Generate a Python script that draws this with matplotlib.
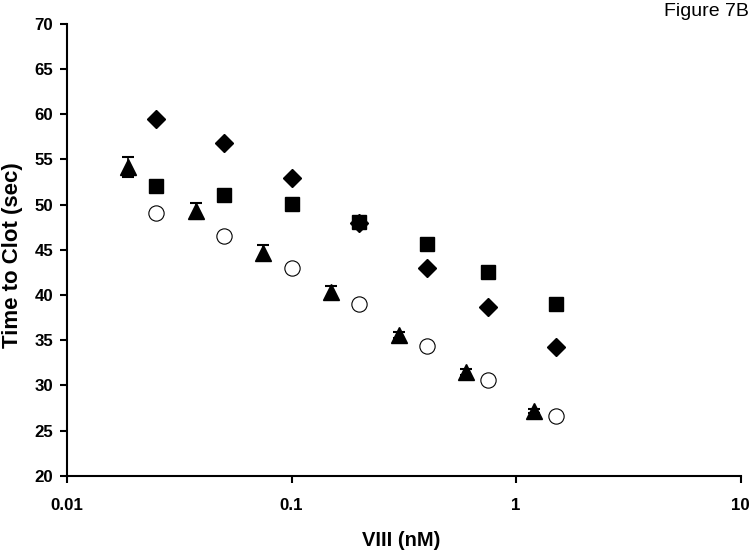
"""Figure 7B: time to clot vs VIII concentration."""

import matplotlib
matplotlib.use("Agg")
import matplotlib.pyplot as plt
from matplotlib.ticker import FixedLocator, FixedFormatter, NullLocator

plt.rcParams['font.family'] = ['Liberation Sans', 'DejaVu Sans']

# series
x_std = [0.025, 0.05, 0.1, 0.2, 0.4, 0.75, 1.5]
diamond_y = [59.5, 56.8, 53.0, 48.0, 43.0, 38.7, 34.3]
square_y = [52.1, 51.1, 50.1, 48.1, 45.6, 42.6, 39.0]
circle_y = [49.1, 46.5, 43.0, 39.0, 34.4, 30.6, 26.6]

x_tri = [0.01875, 0.0375, 0.075, 0.15, 0.3, 0.6, 1.2]
tri_y = [54.2, 49.3, 44.7, 40.3, 35.6, 31.5, 27.2]
tri_err = [1.1, 0.9, 0.8, 0.7, 0.3, 0.3, 0.2]

x_ticks = [0.01, 0.1, 1, 10]
x_labels = ['0.01', '0.1', '1', '10']
y_ticks = list(range(20, 75, 5))

fig = plt.figure(figsize=(7.52, 5.54), dpi=100)
ax = fig.add_axes([0.089, 0.141, 0.896, 0.816])

ax.plot(x_std, diamond_y, 'D', color='black', markersize=9, linestyle='none')
ax.plot(x_std, square_y, 's', color='black', markersize=10.5, linestyle='none')
ax.errorbar(x_tri, tri_y, yerr=tri_err, fmt='^', color='black', markersize=11,
            capsize=4, elinewidth=1.2, capthick=1.5)
ax.plot(x_std, circle_y, 'o', markerfacecolor='white', markeredgecolor='black',
        markeredgewidth=0.8, markersize=11, linestyle='none')

ax.set_xscale('log')
ax.set_xlim(0.01, 10)
ax.set_ylim(20, 70)
ax.xaxis.set_major_locator(FixedLocator(x_ticks))
ax.xaxis.set_major_formatter(FixedFormatter(x_labels))
ax.xaxis.set_minor_locator(NullLocator())
ax.set_yticks(y_ticks)

for side in ['top', 'right']:
    ax.spines[side].set_visible(False)
for side in ['left', 'bottom']:
    ax.spines[side].set_linewidth(1.5)
ax.tick_params(direction='out', length=5, width=1.5, labelsize=12.2)
ax.tick_params(axis='x', pad=11)
ax.tick_params(axis='y', pad=5)
for lbl in ax.get_xticklabels() + ax.get_yticklabels():
    lbl.set_fontweight('bold')

# axis titles placed where they sit in the original
fig.text(0.534, 0.025, 'VIII (nM)', ha='center', va='center',
         fontsize=14.5, fontweight='bold')
fig.text(0.016, 0.540, 'Time to Clot (sec)', ha='center', va='center',
         rotation=90, fontsize=16, fontweight='bold')
fig.text(0.996, 0.980, 'Figure 7B', ha='right', va='center', fontsize=14)

fig.savefig('out.png', dpi=100)
